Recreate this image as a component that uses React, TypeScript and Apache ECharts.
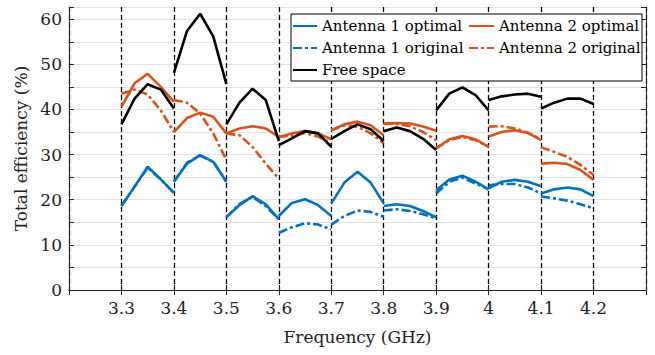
import React, { useEffect, useRef } from "react";
import * as echarts from "echarts";

const bandStarts = [3.3, 3.4, 3.5, 3.6, 3.7, 3.8, 3.9, 4.0, 4.1];
const bandOffsets = [0, 0.025, 0.05, 0.075, 0.1];
const xTickLabels = ["3.3", "3.4", "3.5", "3.6", "3.7", "3.8", "3.9", "4", "4.1", "4.2"];

const antenna1Optimal = [
  [18.6, 22.9, 27.3, 24.5, 21.5],
  [24.0, 28.0, 29.9, 28.4, 24.0],
  [16.1, 18.8, 20.8, 19.0, 15.7],
  [16.4, 19.3, 20.1, 18.8, 16.4],
  [19.2, 23.8, 26.2, 23.8, 19.2],
  [18.6, 19.0, 18.6, 17.5, 16.1],
  [22.1, 24.5, 25.3, 24.0, 22.3],
  [22.5, 24.0, 24.4, 24.0, 23.0],
  [21.4, 22.3, 22.7, 22.3, 20.8],
];
const antenna1Original = [
  [18.6, 22.9, 27.1, 24.5, 21.5],
  [24.0, 28.2, 29.8, 28.4, 24.0],
  [16.1, 19.1, 20.6, 18.6, 15.7],
  [12.7, 13.9, 14.8, 14.5, 13.4],
  [14.5, 16.4, 17.6, 17.3, 16.2],
  [17.6, 17.9, 17.5, 16.8, 15.9],
  [21.4, 24.0, 24.9, 23.6, 22.3],
  [23.2, 23.5, 23.5, 22.7, 21.4],
  [20.7, 20.3, 19.8, 19.0, 18.1],
];
const antenna2Optimal = [
  [40.6, 45.8, 47.9, 45.0, 41.7],
  [35.0, 38.1, 39.3, 38.4, 34.7],
  [34.7, 35.8, 36.3, 35.8, 33.9],
  [33.9, 34.7, 35.2, 34.7, 33.4],
  [35.4, 36.7, 37.3, 36.5, 34.3],
  [36.9, 37.0, 36.9, 36.2, 35.3],
  [31.4, 33.4, 34.1, 33.4, 31.7],
  [34.0, 35.0, 35.4, 34.8, 33.2],
  [28.0, 28.2, 27.9, 26.6, 24.4],
];
const antenna2Original = [
  [43.5, 44.4, 43.3, 39.8, 35.0],
  [42.1, 41.5, 39.1, 34.7, 28.8],
  [34.7, 34.3, 31.7, 28.0, 24.7],
  [33.9, 34.2, 34.8, 34.0, 32.5],
  [35.4, 36.5, 36.2, 34.7, 32.5],
  [36.8, 36.8, 36.3, 35.0, 33.2],
  [31.4, 33.2, 33.9, 33.2, 31.7],
  [36.2, 36.3, 35.8, 34.8, 33.4],
  [31.6, 30.6, 29.5, 27.7, 25.5],
];
const freeSpace = [
  [36.7, 42.4, 45.6, 44.4, 40.2],
  [48.1, 57.4, 61.2, 56.2, 45.6],
  [36.7, 41.5, 44.6, 42.1, 33.0],
  [32.1, 33.6, 35.2, 34.7, 31.7],
  [33.5, 35.2, 36.7, 35.6, 33.0],
  [35.2, 36.0, 35.2, 33.5, 31.0],
  [39.8, 43.5, 44.9, 43.2, 39.8],
  [42.1, 42.9, 43.3, 43.5, 42.8],
  [40.2, 41.5, 42.4, 42.4, 41.2],
];

const BLUE = "#0072BD";
const ORANGE = "#D95319";
const FONT = "DejaVu Serif";
const DASHDOT = [9, 3, 3, 3];

function buildData(segs: number[][]) {
  const out: any[] = [];
  segs.forEach((seg, i) => {
    seg.forEach((v, j) => {
      out.push([+(bandStarts[i] + bandOffsets[j]).toFixed(3), v]);
    });
    if (i < segs.length - 1) out.push([+(bandStarts[i] + 0.1).toFixed(3), "-"]);
  });
  return out;
}

function mkSeries(name: string, segs: number[][], color: string, dashed: boolean) {
  return {
    name,
    type: "line",
    data: buildData(segs),
    symbol: "none",
    legendIcon: "rect",
    connectNulls: false,
    color,
    lineStyle: { color, width: 2.6, type: dashed ? DASHDOT : "solid" },
    z: 2,
  };
}

export default function App() {
  const ref = useRef<HTMLDivElement>(null);
  useEffect(() => {
    if (!ref.current) return;
    const chart = echarts.init(ref.current, undefined, { renderer: "svg" });
    const xCommon = {
      type: "value",
      min: 3.2,
      max: 4.3,
      interval: 0.1,
      axisLine: { show: true, lineStyle: { color: "#222", width: 1 } },
      axisTick: { show: true, inside: true, length: 5, lineStyle: { color: "#222" } },
    };
    const yCommon = {
      type: "value",
      min: 0,
      max: 62.7,
      interval: 5,
      axisLine: { show: true, lineStyle: { color: "#222", width: 1 } },
      axisTick: { show: true, inside: true, length: 5, lineStyle: { color: "#222" } },
    };
    const legendCommon = {
      orient: "vertical",
      top: 16,
      padding: 0,
      itemHeight: 14,
      itemGap: 2,
      itemStyle: { opacity: 0 },
      textStyle: { fontFamily: FONT, fontSize: 15, color: "#000", lineHeight: 20 },
      z: 4,
    };
    chart.setOption({
      animation: false,
      backgroundColor: "#fff",
      textStyle: { fontFamily: FONT },
      grid: { left: 69, right: 9, top: 7, bottom: 65, containLabel: false },
      xAxis: [
        {
          ...xCommon,
          position: "bottom",
          name: "Frequency (GHz)",
          nameLocation: "middle",
          nameGap: 38,
          nameTextStyle: { fontFamily: FONT, fontSize: 17, color: "#222" },
          axisLabel: {
            fontFamily: FONT,
            fontSize: 17,
            color: "#222",
            margin: 9,
            showMinLabel: false,
            showMaxLabel: false,
            formatter: (v: number) => {
              const s = String(+v.toFixed(2));
              return xTickLabels.includes(s) ? s : "";
            },
          },
          splitLine: { show: true, lineStyle: { color: "#000", width: 1.3, type: [5, 3] } },
        },
        {
          ...xCommon,
          position: "top",
          axisLabel: { show: false },
          splitLine: { show: false },
        },
      ],
      yAxis: [
        {
          ...yCommon,
          position: "left",
          name: "Total efficiency (%)",
          nameLocation: "middle",
          nameGap: 33,
          nameTextStyle: { fontFamily: FONT, fontSize: 17, color: "#222" },
          axisLabel: {
            fontFamily: FONT,
            fontSize: 17,
            color: "#222",
            margin: 7,
            formatter: (v: number) => (Math.abs(v % 10) < 1e-6 ? String(v) : ""),
          },
          splitLine: { show: true, lineStyle: { color: "#e3e3e3", width: 1 } },
        },
        {
          ...yCommon,
          position: "right",
          axisLabel: { show: false },
          splitLine: { show: false },
        },
      ],
      graphic: [
        {
          type: "rect",
          shape: { x: 291, y: 14, width: 351, height: 67 },
          style: { fill: "#fff", stroke: "#000", lineWidth: 1 },
          z: 3,
        },
      ],
      legend: [
        {
          ...legendCommon,
          data: ["Antenna 1 optimal", "Antenna 1 original", "Free space"],
          left: 292,
          itemWidth: 24,
        },
        {
          ...legendCommon,
          data: ["Antenna 2 optimal", "Antenna 2 original"],
          left: 468,
          itemWidth: 25,
        },
      ],
      series: [
        mkSeries("Antenna 1 optimal", antenna1Optimal, BLUE, false),
        mkSeries("Antenna 1 original", antenna1Original, BLUE, true),
        mkSeries("Antenna 2 optimal", antenna2Optimal, ORANGE, false),
        mkSeries("Antenna 2 original", antenna2Original, ORANGE, true),
        mkSeries("Free space", freeSpace, "#000", false),
      ],
    });
    return () => chart.dispose();
  }, []);
  return <div ref={ref} style={{ width: 655, height: 355, position: "absolute", left: 0, top: 0 }} />;
}
